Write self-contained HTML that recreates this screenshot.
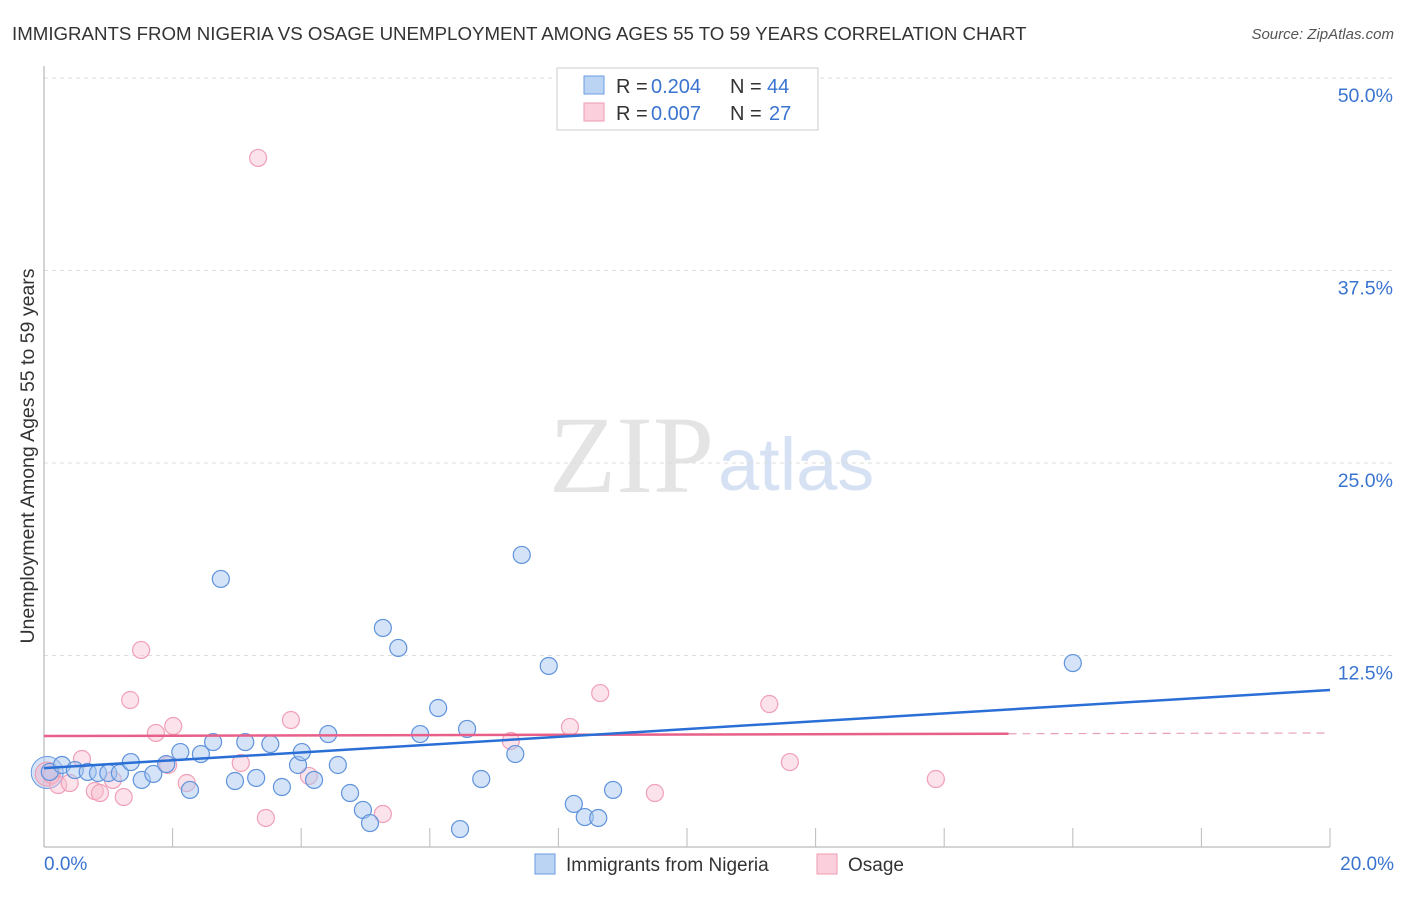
<!DOCTYPE html>
<html><head><meta charset="utf-8"><style>
body{margin:0;background:#fff;font-family:"Liberation Sans",sans-serif;}
</style></head><body>
<svg id="c" width="1406" height="892" xmlns="http://www.w3.org/2000/svg">
<text x="12" y="40" font-size="18.7" fill="#333">IMMIGRANTS FROM NIGERIA VS OSAGE UNEMPLOYMENT AMONG AGES 55 TO 59 YEARS CORRELATION CHART</text>
<text x="1394" y="39" font-size="15" fill="#555" text-anchor="end" font-style="italic">Source: ZipAtlas.com</text>
<text x="714" y="492" font-size="110" fill="#e4e4e4" text-anchor="end" font-family="Liberation Serif">ZIP</text>
<text x="718" y="490" font-size="74" fill="#d6e2f3">atlas</text>
<g id="grid"></g><g id="axes"></g><g id="marks"></g>
<text transform="translate(34,456) rotate(-90)" font-size="19.5" fill="#333" text-anchor="middle">Unemployment Among Ages 55 to 59 years</text>
<g>
<rect x="557" y="68" width="261" height="62" fill="#fff" stroke="#ccc"/>
<rect x="584" y="76" width="20" height="18" fill="#bcd4f3" stroke="#6a9be0"/>
<text x="616" y="93" font-size="20" fill="#333">R =</text><text x="651" y="93" font-size="20" fill="#3a74d0">0.204</text>
<text x="730" y="93" font-size="20" fill="#333">N =</text><text x="767" y="93" font-size="20" fill="#3a74d0">44</text>
<rect x="584" y="103" width="20" height="18" fill="#fbd0dc" stroke="#ee9ab2"/>
<text x="616" y="120" font-size="20" fill="#333">R =</text><text x="651" y="120" font-size="20" fill="#3a74d0">0.007</text>
<text x="730" y="120" font-size="20" fill="#333">N =</text><text x="769" y="120" font-size="20" fill="#3a74d0">27</text>
</g>
<g>
<rect x="535" y="854" width="20" height="20" fill="#bcd4f3" stroke="#6a9be0"/>
<text x="566" y="871" font-size="19" fill="#333">Immigrants from Nigeria</text>
<rect x="817" y="854" width="20" height="20" fill="#fbd0dc" stroke="#ee9ab2"/>
<text x="848" y="871" font-size="19" fill="#333">Osage</text>
</g>
</svg>
<script>
const yTicks=[12.5,25,37.5,50];
const yTickLabels=["12.5%","25.0%","37.5%","50.0%"];
const blueX=[0.09,0.28,0.48,0.68,0.84,1.0,1.18,1.35,1.52,1.70,1.90,2.12,2.27,2.44,2.63,2.75,2.97,3.13,3.30,3.52,3.70,3.95,4.01,4.20,4.42,4.57,4.76,4.96,5.07,5.27,5.51,5.85,6.13,6.47,6.58,6.80,7.33,7.43,7.85,8.24,8.41,8.62,8.85,16.0];
const blueY=[4.94,5.39,5.06,4.94,4.87,4.87,4.87,5.58,4.42,4.81,5.45,6.23,3.77,6.10,6.88,17.47,4.35,6.88,4.55,6.75,3.96,5.39,6.23,4.42,7.40,5.39,3.57,2.47,1.62,14.29,12.99,7.40,9.09,1.23,7.73,4.48,6.10,19.03,11.82,2.86,2.01,1.95,3.77,12.01];
const pinkX=[0.12,0.22,0.40,0.59,0.79,0.87,1.07,1.24,1.34,1.51,1.74,1.93,2.01,2.22,3.06,3.33,3.45,3.84,4.12,5.27,7.26,8.18,8.65,9.50,11.28,11.60,13.87];
const pinkY=[4.74,4.09,4.22,5.78,3.70,3.57,4.42,3.31,9.61,12.86,7.47,5.39,7.92,4.22,5.52,44.81,1.95,8.31,4.68,2.21,6.95,7.86,10.06,3.57,9.35,5.58,4.48];
const blueTrend=[5.19,10.26];
const pinkTrend=[7.27,7.47];
const NS="http://www.w3.org/2000/svg";
const X=v=>44+v/20*1286, Y=v=>848-v/12.5*192.5;
function mk(p,t,a){const e=document.createElementNS(NS,t);for(const k in a)e.setAttribute(k,a[k]);document.getElementById(p).appendChild(e);return e;}
yTicks.forEach((t,i)=>{
 const l=mk('grid','line',{x1:44,x2:1394,y1:Y(t),y2:Y(t),stroke:'#ddd','stroke-dasharray':'4,4'});
 
 
 const tx=mk('grid','text',{x:1393,y:Y(t)+24,'font-size':19.5,fill:'#3a74d0','text-anchor':'end'});
 tx.textContent=yTickLabels[i];
 
 
});
let ax=mk('axes','line',{x1:44,x2:44,y1:66,y2:847,stroke:'#aaa'});

ax=mk('axes','line',{x1:44,x2:1330,y1:847,y2:847,stroke:'#aaa'});

for(let i=1;i<=10;i++){const t=mk('axes','line',{x1:X(i*2),x2:X(i*2),y1:828,y2:847,stroke:'#bbb'});
 }
[[0,"0.0%",'start',44],[20,"20.0%",'end',1394]].forEach(a=>{const t=mk('axes','text',{x:a[3],y:870,'font-size':19,fill:'#3a74d0','text-anchor':a[2]});t.textContent=a[1];
 });
let b=mk('marks','circle',{cx:X(0.05),cy:Y(4.9),r:16,fill:'rgba(170,200,240,0.5)',stroke:'#6a9be0'});

b=mk('marks','circle',{cx:X(0.05),cy:Y(4.8),r:12,fill:'rgba(245,180,200,0.5)',stroke:'#ee9ab2'});

pinkX.forEach((v,i)=>{const c=mk('marks','circle',{cx:X(v),cy:Y(pinkY[i]),r:8.5,fill:'rgba(248,190,208,0.45)',stroke:'#f0a0b8','stroke-width':1.2});
 });
blueX.forEach((v,i)=>{const c=mk('marks','circle',{cx:X(v),cy:Y(blueY[i]),r:8.5,fill:'rgba(170,200,240,0.5)',stroke:'#5f93dc','stroke-width':1.2});
 });
let tl=mk('marks','line',{x1:X(0),y1:Y(pinkTrend[0]),x2:X(15),y2:Y(pinkTrend[0]+(pinkTrend[1]-pinkTrend[0])*0.75),stroke:'#e8608a','stroke-width':2.5});

tl=mk('marks','line',{x1:X(15),y1:Y(pinkTrend[0]+(pinkTrend[1]-pinkTrend[0])*0.75),x2:X(20),y2:Y(pinkTrend[1]),stroke:'#e8a0b8','stroke-width':1.2,'stroke-dasharray':'8,6'});

tl=mk('marks','line',{x1:X(0),y1:Y(blueTrend[0]),x2:X(20),y2:Y(blueTrend[1]),stroke:'#2a6fd6','stroke-width':2.5});

</script>
</body></html>
